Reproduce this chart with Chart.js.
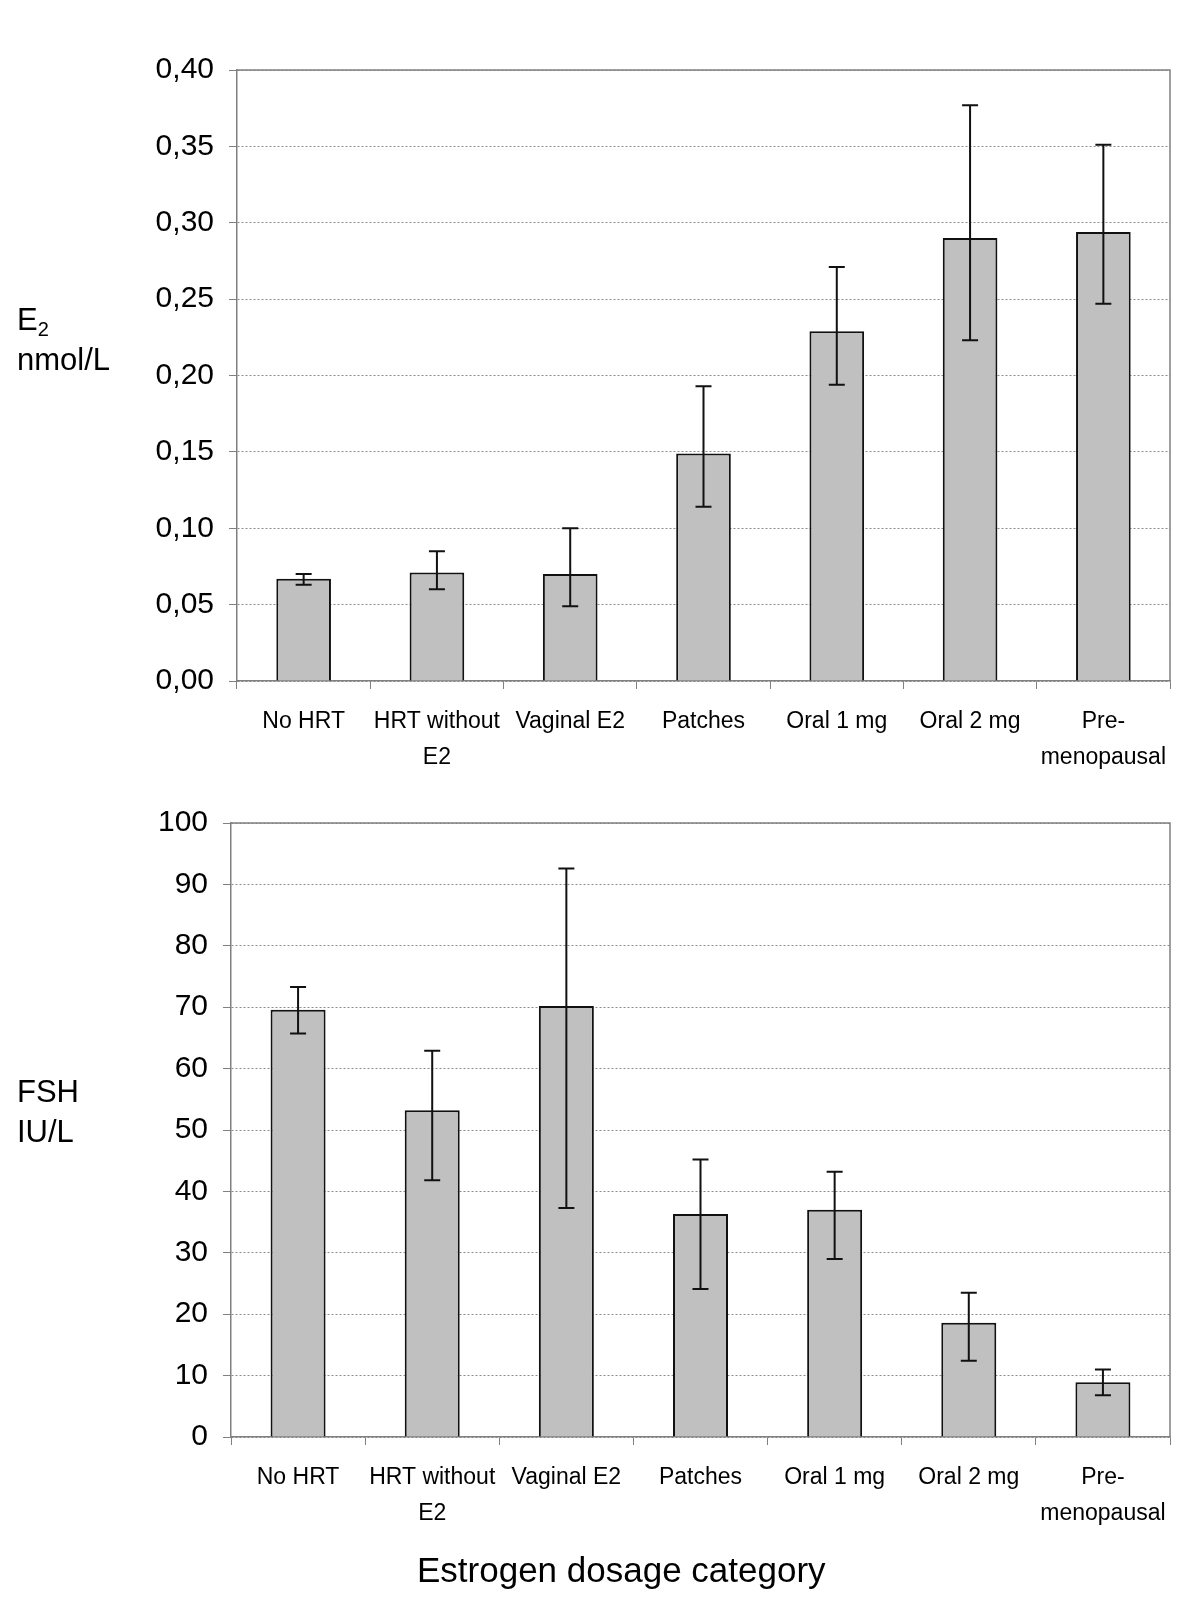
<!DOCTYPE html>
<html>
<head>
<meta charset="utf-8">
<script src="https://cdn.jsdelivr.net/npm/chart.js@4.4.0/dist/chart.umd.min.js"></script>
<style>
  body { margin: 0; background: #fff; }
  #page { position: relative; width: 1200px; height: 1600px; background: #fff; font-family: "Liberation Sans", Arial, sans-serif; color: #000; }
  canvas { position: absolute; left: 0; }
  .ytitle { position: absolute; left: 17px; font-size: 31px; line-height: 40px; }
  .ytitle sub { font-size: 20px; vertical-align: -6px; line-height: 0; }
  #xtitle { position: absolute; left: 417px; top: 1548px; font-size: 35px; line-height: 44px; white-space: nowrap; }
</style>
</head>
<body>
<div id="page">
  <canvas id="e2Chart" width="1200" height="780" style="top:0"></canvas>
  <canvas id="fshChart" width="1200" height="820" style="top:780px"></canvas>
  <div class="ytitle" style="top:300px">E<sub>2</sub><br>nmol/L</div>
  <div class="ytitle" style="top:1072px">FSH<br>IU/L</div>
  <div id="xtitle">Estrogen dosage category</div>
</div>
<script>
// categories shared by both panels
const categories = [['No HRT'], ['HRT without', 'E2'], ['Vaginal E2'], ['Patches'], ['Oral 1 mg'], ['Oral 2 mg'], ['Pre-', 'menopausal']];

// E2 (nmol/L): mean and error bar ends
const e2Mean = [0.067, 0.071, 0.070, 0.149, 0.229, 0.290, 0.294];
const e2Low  = [0.063, 0.060, 0.049, 0.114, 0.194, 0.223, 0.247];
const e2High = [0.070, 0.085, 0.100, 0.193, 0.271, 0.377, 0.351];
const e2Ticks = { min: 0, max: 0.4, step: 0.05 };

// FSH (IU/L): mean and error bar ends
const fshMean = [69.6, 53.2, 70.2, 36.3, 37.0, 18.6, 8.9];
const fshLow  = [65.7, 41.8, 37.3, 24.1, 29.0, 12.4, 6.8];
const fshHigh = [73.3, 62.9, 92.6, 45.2, 43.2, 23.5, 11.0];
const fshTicks = { min: 0, max: 100, step: 10 };

const labelFont = '"Liberation Sans", Arial, sans-serif';

// draws the error bars and the grey frame round the plot area
const errorBarPlugin = {
    id: 'errorBars',
    afterDatasetsDraw(chart, args, opts) {
        const ctx = chart.ctx;
        const meta = chart.getDatasetMeta(0);
        const y = chart.scales.y;
        ctx.save();
        ctx.strokeStyle = '#111';
        ctx.lineWidth = 2;
        meta.data.forEach((bar, i) => {
            const yLo = y.getPixelForValue(opts.low[i]);
            const yHi = y.getPixelForValue(opts.high[i]);
            ctx.beginPath();
            ctx.moveTo(bar.x, yLo);
            ctx.lineTo(bar.x, yHi);
            ctx.moveTo(bar.x - 8, yLo);
            ctx.lineTo(bar.x + 8, yLo);
            ctx.moveTo(bar.x - 8, yHi);
            ctx.lineTo(bar.x + 8, yHi);
            ctx.stroke();
        });
        const a = chart.chartArea;
        ctx.strokeStyle = '#808080';
        ctx.lineWidth = 1.5;
        ctx.beginPath();
        ctx.moveTo(a.left, a.top);
        ctx.lineTo(a.right, a.top);
        ctx.lineTo(a.right, a.bottom);
        ctx.stroke();
        ctx.restore();
    }
};

function makeChart(id, mean, low, high, range, area, fmt) {
    const ctx = document.getElementById(id).getContext('2d');
    return new Chart(ctx, {
        type: 'bar',
        data: {
            labels: categories,
            datasets: [{
                data: mean,
                backgroundColor: '#c0c0c0',
                borderColor: '#111',
                borderWidth: 2,
                barPercentage: 0.41,
                categoryPercentage: 1
            }]
        },
        options: {
            responsive: false,
            animation: false,
            layout: { padding: { left: 0, right: 1200 - area.right, top: area.top, bottom: 0 } },
            plugins: {
                legend: { display: false },
                tooltip: { enabled: false },
                errorBars: { low: low, high: high }
            },
            scales: {
                x: {
                    offset: true,
                    grid: { drawOnChartArea: false, offset: true, tickLength: 8, color: '#808080', tickWidth: 1 },
                    border: { color: '#808080', width: 1.5 },
                    ticks: { color: '#000', font: { family: labelFont, size: 23, lineHeight: 1.55 }, padding: 15, maxRotation: 0, autoSkip: false },
                    afterFit: s => { s.height = area.xHeight; }
                },
                y: {
                    min: range.min,
                    max: range.max,
                    grid: { color: '#8c8c8c', lineWidth: 1, tickLength: 8, tickBorderDash: [], tickColor: '#808080', drawTicks: true },
                    border: { color: '#808080', width: 1.5, dash: [2, 2] },
                    ticks: {
                        stepSize: range.step,
                        color: '#000',
                        padding: 15,
                        font: { family: labelFont, size: 30 },
                        callback: fmt
                    },
                    afterFit: s => { s.width = area.left; }
                }
            }
        },
        plugins: [errorBarPlugin]
    });
}

document.addEventListener('DOMContentLoaded', function() {
    makeChart('e2Chart', e2Mean, e2Low, e2High, e2Ticks,
        { left: 237, right: 1170, top: 70, xHeight: 780 - 681 },
        v => v.toFixed(2).replace('.', ','));
    makeChart('fshChart', fshMean, fshLow, fshHigh, fshTicks,
        { left: 231, right: 1170, top: 43, xHeight: 820 - 657 },
        v => v);
});
</script>
</body>
</html>
